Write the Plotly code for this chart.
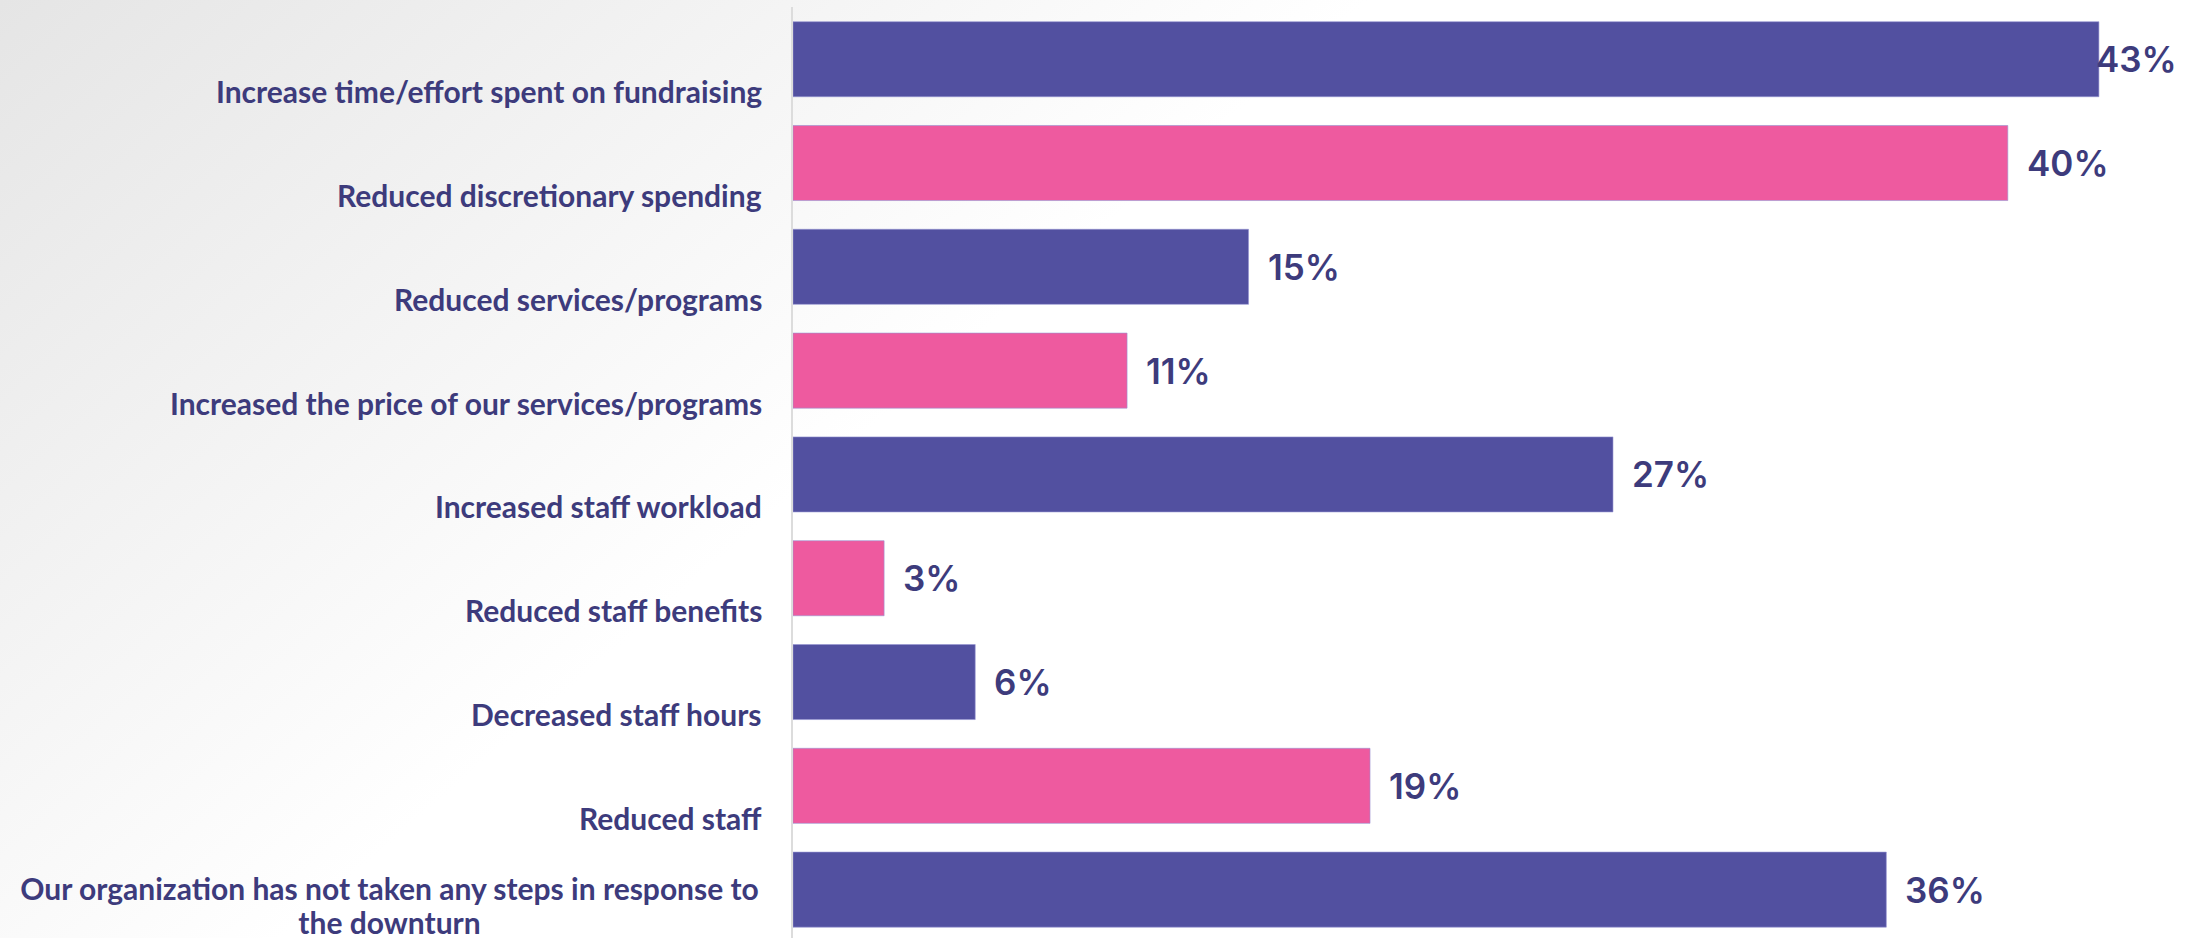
import base64
import plotly.graph_objects as go

# Survey responses: steps taken in response to the downturn
categories = [
    "Increase time/effort spent on fundraising",
    "Reduced discretionary spending",
    "Reduced services/programs",
    "Increased the price of our services/programs",
    "Increased staff workload",
    "Reduced staff benefits",
    "Decreased staff hours",
    "Reduced staff",
    "Our organization has not taken any steps in response to\nthe downturn",
]
values = [43, 40, 15, 11, 27, 3, 6, 19, 36]

PURPLE = "#5250a0"
PINK = "#ee5a9f"
TEXT = "#3d3b7c"

W, H = 2193, 938
ML, MR, MT, MB = 793, 0, 7, 0
PW, PH = W - ML - MR, H - MT - MB

bar_colors = [PURPLE if i % 2 == 0 else PINK for i in range(len(values))]
ycats = [c.replace("\n", " ") for c in categories]

fig = go.Figure()
fig.add_trace(go.Bar(
    x=values,
    y=ycats,
    orientation="h",
    marker=dict(color=bar_colors, line=dict(width=1, color="rgba(150,148,210,0.6)")),
    hoverinfo="skip",
    showlegend=False,
))

annotations = []
# category labels, last line anchored just below the bar centre;
# wrapped labels keep their lines centred on each other
for cat, label in zip(ycats, categories):
    lines = label.split("\n")
    block = dict(width=745, align="center") if len(lines) > 1 else dict(align="right")
    for k, line in enumerate(reversed(lines)):
        annotations.append(dict(
            xref="paper", x=0, xanchor="right", xshift=-29,
            yref="y", y=cat, yanchor="middle", yshift=-32 + k * 34,
            text=line, showarrow=False,
            font=dict(family="Lato, Liberation Sans", size=30, color=TEXT, weight="bold"),
            **block,
        ))

# value labels at the bar ends
vmax = max(values)
for cat, v in zip(ycats, values):
    annotations.append(dict(
        xref="x", x=v, xanchor="left",
        xshift=-5 if v == vmax else 17,  # keep the widest label inside the page
        yref="y", y=cat, yanchor="middle",
        text=f"{v}%", showarrow=False,
        font=dict(family="Inter, Lato, sans-serif", size=35, color=TEXT, weight=600),
    ))

# soft diagonal grey backdrop
svg = f"""<svg xmlns='http://www.w3.org/2000/svg' width='{W}' height='{H}' viewBox='0 0 {W} {H}'>
<defs><linearGradient id='g' gradientUnits='userSpaceOnUse' x1='0' y1='0' x2='584' y2='677'>
<stop offset='0' stop-color='#e5e5e5'/><stop offset='1' stop-color='#ffffff'/></linearGradient></defs>
<rect width='{W}' height='{H}' fill='url(#g)'/></svg>"""
bg_uri = "data:image/svg+xml;base64," + base64.b64encode(svg.encode()).decode()

fig.update_layout(
    width=W, height=H,
    margin=dict(l=ML, r=MR, t=MT, b=MB, pad=0),
    paper_bgcolor="white",
    plot_bgcolor="rgba(0,0,0,0)",
    bargap=0.277,
    annotations=annotations,
    images=[dict(
        source=bg_uri, xref="paper", yref="paper",
        x=-ML / PW, y=1 + MT / PH, sizex=W / PW, sizey=H / PH,
        xanchor="left", yanchor="top", sizing="stretch", layer="below",
    )],
    xaxis=dict(range=[0, PW / 30.37], visible=False, fixedrange=True),
    yaxis=dict(
        type="category",
        categoryorder="array", categoryarray=ycats,
        range=[8.466, -0.503],
        showticklabels=False, ticks="",
        showgrid=False, zeroline=False,
        showline=True, linewidth=2, linecolor="#dcdcdc",
        fixedrange=True,
    ),
)

fig.write_html("out.html", config={"displayModeBar": False})
